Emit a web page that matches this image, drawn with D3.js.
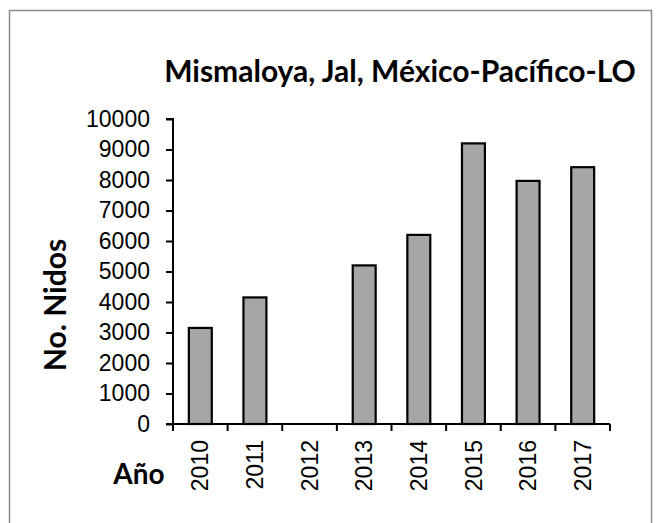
<!DOCTYPE html>
<html>
<head>
<meta charset="utf-8">
<script src="https://cdn.jsdelivr.net/npm/d3@7"></script>
<style>
  html, body { margin: 0; padding: 0; background: #fff; }
  svg { display: block; }
</style>
</head>
<body>
<svg id="chart" width="656" height="523"></svg>
<script>
const titleText = "Mismaloya, Jal, México-Pacífico-LO";
const yLabel = "No. Nidos";
const xLabel = "Año";
const years = ["2010", "2011", "2012", "2013", "2014", "2015", "2016", "2017"];
const nests = [3150, 4150, 0, 5200, 6200, 9200, 7970, 8420];
const yTicks = [0, 1000, 2000, 3000, 4000, 5000, 6000, 7000, 8000, 9000, 10000];

const svg = d3.select("#chart");

// outer frame
svg.append("rect")
  .attr("x", 9.5).attr("y", 10.5)
  .attr("width", 642).attr("height", 530)
  .attr("fill", "#fff").attr("stroke", "#8c8c8c").attr("stroke-width", 1.5);

const x = d3.scaleBand().domain(years).range([173, 610]).paddingInner(0.58).paddingOuter(0.29);
const y = d3.scaleLinear().domain([0, 10000]).range([424, 119]);

const boldFont = "Lato, 'Open Sans', sans-serif";
const numFont = "'Liberation Sans', Arial, sans-serif";

// bars
svg.append("g").selectAll("rect")
  .data(years.map((yr, i) => ({yr, v: nests[i]})).filter(d => d.v > 0))
  .join("rect")
  .attr("x", d => x(d.yr))
  .attr("y", d => y(d.v))
  .attr("width", x.bandwidth())
  .attr("height", d => y(0) - y(d.v))
  .attr("fill", "#a6a6a6")
  .attr("stroke", "#000")
  .attr("stroke-width", 2.2);

// y axis
const yAxis = d3.axisLeft(y).tickValues(yTicks).tickSize(7).tickPadding(16).tickFormat(d3.format("d"));
const gy = svg.append("g").attr("transform", "translate(173,0)").call(yAxis);
gy.select(".domain").attr("stroke", "#000").attr("stroke-width", 2).attr("d", `M-7,${y(10000)}H0V${y(0)}H-7`);
gy.selectAll(".tick line").attr("stroke", "#000").attr("stroke-width", 2);
gy.selectAll(".tick text").attr("font-family", numFont).attr("font-size", 23).attr("fill", "#000");

// x axis
const xAxis = d3.axisBottom(x).tickSize(0).tickPadding(0);
const gx = svg.append("g").attr("transform", `translate(0,${y(0)})`).call(xAxis);
gx.select(".domain").attr("stroke", "#000").attr("stroke-width", 2).attr("d", `M173,0H610`);
gx.selectAll(".tick text")
  .attr("font-family", numFont).attr("font-size", 23).attr("fill", "#000")
  .attr("transform", "rotate(-90)")
  .attr("text-anchor", "end")
  .attr("dy", "0.35em")
  .attr("x", -16).attr("y", 0);
// category boundary ticks
const bounds = years.map((yr, i) => 173 + i * (610 - 173) / years.length).concat([610]);
gx.append("g").selectAll("line").data(bounds).join("line")
  .attr("x1", d => d).attr("x2", d => d).attr("y1", 0).attr("y2", 7)
  .attr("stroke", "#000").attr("stroke-width", 2);

// title
svg.append("text")
  .attr("x", 400).attr("y", 82)
  .attr("text-anchor", "middle")
  .attr("font-family", boldFont).attr("font-weight", "bold").attr("font-size", 30)
  .attr("fill", "#000")
  .text(titleText);

// y label
svg.append("text")
  .attr("transform", "translate(66,305) rotate(-90)")
  .attr("text-anchor", "middle")
  .attr("font-family", boldFont).attr("font-weight", "bold").attr("font-size", 30)
  .attr("fill", "#000")
  .text(yLabel);

// x label
svg.append("text")
  .attr("x", 139).attr("y", 484)
  .attr("text-anchor", "middle")
  .attr("font-family", boldFont).attr("font-weight", "bold").attr("font-size", 28)
  .attr("fill", "#000")
  .text(xLabel);
</script>
</body>
</html>
